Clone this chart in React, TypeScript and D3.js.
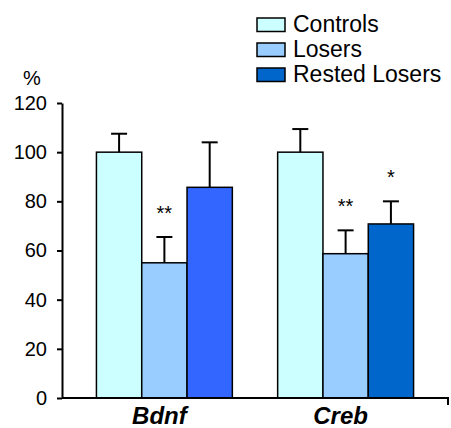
import React, { useEffect, useRef } from "react";
import * as d3 from "d3";

const genes = ["Bdnf", "Creb"];
const groups = ["Controls", "Losers", "Rested Losers"];
const controls = [100, 100];
const losers = [55, 58.7];
const restedLosers = [85.7, 70.8];
const controlsErr = [7.5, 9.4];
const losersErr = [10.5, 9.5];
const restedErr = [18.3, 9.2];
const losersStars = ["**", "**"];
const restedStars = ["", "*"];
const yTicks = [0, 20, 40, 60, 80, 100, 120];

const W = 451;
const H = 428;

export default function App() {
  const ref = useRef<SVGSVGElement>(null);

  useEffect(() => {
    document.body.style.margin = "0";
    const svg = d3.select(ref.current);
    svg.selectAll("*").remove();

    const font = "'Liberation Sans', Arial, sans-serif";
    const values = [controls, losers, restedLosers];
    const errs = [controlsErr, losersErr, restedErr];
    const stars = [null, losersStars, restedStars];
    // rested losers bar is a different blue in each gene group
    const fills = [
      ["#ccffff", "#ccffff"],
      ["#99ccff", "#99ccff"],
      ["#3366ff", "#0066cc"],
    ];
    const legendFills = ["#ccffff", "#99ccff", "#0066cc"];

    const x0 = d3.scaleBand().domain(genes).range([62, 448]).paddingInner(0.25).paddingOuter(0.19);
    const x1 = d3.scaleBand().domain(groups).range([0, x0.bandwidth()]);
    const y = d3.scaleLinear().domain([0, 120]).range([398, 103]);

    const chart = svg.append("g");

    genes.forEach((gene, gi) => {
      const g = chart.append("g").attr("transform", `translate(${x0(gene)},0)`);
      groups.forEach((grp, si) => {
        const v = values[si][gi];
        const e = errs[si][gi];
        const cx = x1(grp)! + x1.bandwidth() / 2;
        // error bar first so the bar outline sits on top
        g.append("line")
          .attr("x1", cx).attr("x2", cx)
          .attr("y1", y(v)).attr("y2", y(v + e))
          .attr("stroke", "#000").attr("stroke-width", 2);
        g.append("line")
          .attr("x1", cx - 8).attr("x2", cx + 8)
          .attr("y1", y(v + e)).attr("y2", y(v + e))
          .attr("stroke", "#000").attr("stroke-width", 2);
        g.append("rect")
          .attr("x", x1(grp)!)
          .attr("y", y(v))
          .attr("width", x1.bandwidth())
          .attr("height", y(0) - y(v))
          .attr("fill", fills[si][gi])
          .attr("stroke", "#000")
          .attr("stroke-width", 1.5);
        const s = stars[si];
        if (s && s[gi]) {
          g.append("text")
            .attr("x", cx)
            .attr("y", y(v + e) - 17)
            .attr("text-anchor", "middle")
            .attr("font-family", font)
            .attr("font-size", 20)
            .text(s[gi]);
        }
      });
      svg.append("text")
        .attr("x", x0(gene)! + x0.bandwidth() / 2 - 5)
        .attr("y", 424)
        .attr("text-anchor", "middle")
        .attr("font-family", font)
        .attr("font-size", 24)
        .attr("font-weight", "bold")
        .attr("font-style", "italic")
        .text(gene);
    });

    // y axis
    const yAxis = svg.append("g")
      .attr("transform", "translate(62,0)")
      .call(d3.axisLeft(y).tickValues(yTicks).tickSize(5).tickPadding(10).tickSizeOuter(0));
    yAxis.select(".domain").attr("stroke-width", 2);
    yAxis.selectAll(".tick line").attr("stroke-width", 2);
    yAxis.selectAll(".tick text").attr("font-size", 20).attr("font-family", font).attr("fill", "#000");

    // x axis baseline with end tick
    svg.append("path")
      .attr("d", `M${62},${y(0)}H${448}V${y(0) + 7}`)
      .attr("fill", "none")
      .attr("stroke", "#000")
      .attr("stroke-width", 2);

    svg.append("text")
      .attr("x", 32).attr("y", 85)
      .attr("text-anchor", "middle")
      .attr("font-family", font)
      .attr("font-size", 20)
      .text("%");

    // legend
    const legend = svg.append("g").attr("transform", "translate(257,18)");
    groups.forEach((grp, i) => {
      legend.append("rect")
        .attr("x", 0).attr("y", i * 25)
        .attr("width", 28).attr("height", 13.5)
        .attr("fill", legendFills[i])
        .attr("stroke", "#000").attr("stroke-width", 1.5);
      legend.append("text")
        .attr("x", 36).attr("y", i * 25 + 13.5)
        .attr("font-family", font)
        .attr("font-size", 23)
        .text(grp);
    });
  }, []);

  return <svg ref={ref} width={W} height={H} style={{ display: "block", background: "#fff" }} />;
}
